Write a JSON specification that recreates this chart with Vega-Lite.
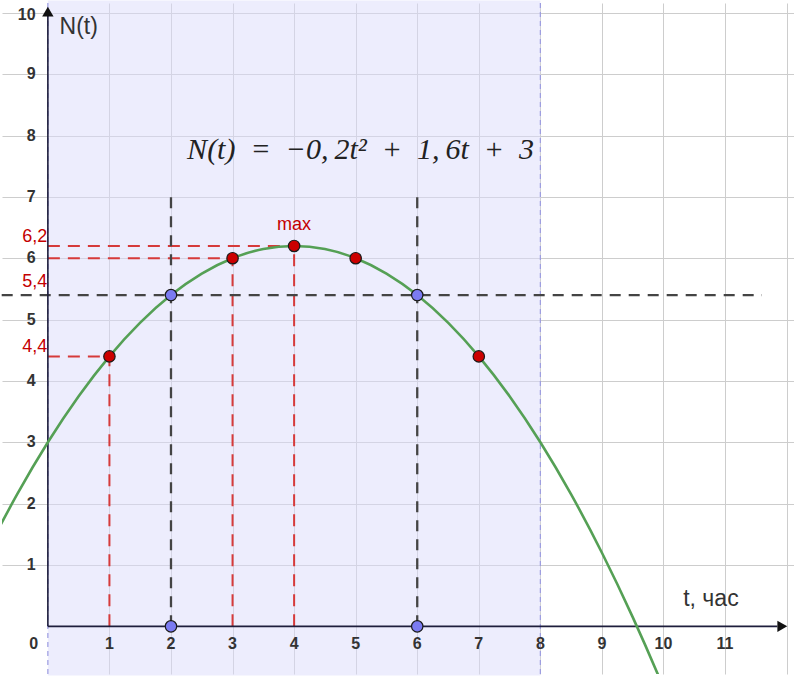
{
  "$schema": "https://vega.github.io/schema/vega-lite/v6.json",
  "width": 794,
  "height": 676,
  "autosize": {"type": "fit", "contains": "padding"},
  "padding": 0,
  "background": "white",
  "config": {
    "view": {"stroke": null},
    "axis": {"labels": false, "ticks": false, "domain": false, "title": null, "grid": true, "gridColor": "#cdcdcd", "gridWidth": 1}
  },
  "datasets": {
    "region": [{"a": 0, "b": 8, "lo": -0.8, "hi": 10.2}],
    "bounds": [{"x": 0}, {"x": 8}],
    "curve": [
      {"t": -0.8, "n": 1.592}, {"t": -0.5, "n": 2.15}, {"t": 0, "n": 3}, {"t": 0.5, "n": 3.75},
      {"t": 1, "n": 4.4}, {"t": 1.5, "n": 4.95}, {"t": 2, "n": 5.4}, {"t": 2.5, "n": 5.75},
      {"t": 3, "n": 6.0}, {"t": 3.5, "n": 6.15}, {"t": 4, "n": 6.2}, {"t": 4.5, "n": 6.15},
      {"t": 5, "n": 6.0}, {"t": 5.5, "n": 5.75}, {"t": 6, "n": 5.4}, {"t": 6.5, "n": 4.95},
      {"t": 7, "n": 4.4}, {"t": 7.5, "n": 3.75}, {"t": 8, "n": 3.0}, {"t": 8.5, "n": 2.15},
      {"t": 9, "n": 1.2}, {"t": 9.5, "n": 0.15}, {"t": 10, "n": -1.0}, {"t": 10.2, "n": -1.488}
    ],
    "redDash": [
      {"x1": 0, "y1": 4.4, "x2": 1, "y2": 4.4},
      {"x1": 0, "y1": 6.0, "x2": 3, "y2": 6.0},
      {"x1": 0, "y1": 6.2, "x2": 4, "y2": 6.2},
      {"x1": 1, "y1": 0, "x2": 1, "y2": 4.4},
      {"x1": 3, "y1": 0, "x2": 3, "y2": 6.0},
      {"x1": 4, "y1": 0, "x2": 4, "y2": 6.2}
    ],
    "blackDash": [
      {"x1": -0.75, "y1": 5.4, "x2": 11.6, "y2": 5.4},
      {"x1": 2, "y1": 0, "x2": 2, "y2": 7},
      {"x1": 6, "y1": 0, "x2": 6, "y2": 7}
    ],
    "axes": [
      {"x1": 0, "y1": 0, "x2": 0, "y2": 10.0},
      {"x1": 0, "y1": 0, "x2": 11.85, "y2": 0}
    ],
    "arrows": [
      {"x": 0, "y": 10.02, "shape": "triangle-up"},
      {"x": 11.93, "y": 0, "shape": "triangle-right"}
    ],
    "points": [
      {"x": 1, "y": 4.4, "kind": "red"}, {"x": 3, "y": 6.0, "kind": "red"},
      {"x": 4, "y": 6.2, "kind": "red"}, {"x": 5, "y": 6.0, "kind": "red"},
      {"x": 7, "y": 4.4, "kind": "red"},
      {"x": 2, "y": 5.4, "kind": "blue"}, {"x": 6, "y": 5.4, "kind": "blue"},
      {"x": 2, "y": 0, "kind": "blue"}, {"x": 6, "y": 0, "kind": "blue"}
    ],
    "xTicks": [
      {"x": -0.23, "y": -0.29, "label": "0"}, {"x": 1, "y": -0.29, "label": "1"},
      {"x": 2, "y": -0.29, "label": "2"}, {"x": 3, "y": -0.29, "label": "3"},
      {"x": 4, "y": -0.29, "label": "4"}, {"x": 5, "y": -0.29, "label": "5"},
      {"x": 6, "y": -0.29, "label": "6"}, {"x": 7, "y": -0.29, "label": "7"},
      {"x": 8, "y": -0.29, "label": "8"}, {"x": 9, "y": -0.29, "label": "9"},
      {"x": 10, "y": -0.29, "label": "10"}, {"x": 11, "y": -0.29, "label": "11"}
    ],
    "yTicks": [
      {"x": -0.2, "y": 1, "label": "1"}, {"x": -0.2, "y": 2, "label": "2"},
      {"x": -0.2, "y": 3, "label": "3"}, {"x": -0.2, "y": 4, "label": "4"},
      {"x": -0.2, "y": 5, "label": "5"}, {"x": -0.2, "y": 6, "label": "6"},
      {"x": -0.2, "y": 7, "label": "7"}, {"x": -0.2, "y": 8, "label": "8"},
      {"x": -0.2, "y": 9, "label": "9"}, {"x": -0.2, "y": 9.97, "label": "10"}
    ],
    "redLabels": [
      {"x": -0.01, "y": 6.34, "label": "6,2"},
      {"x": -0.01, "y": 5.61, "label": "5,4"},
      {"x": -0.01, "y": 4.56, "label": "4,4"}
    ]
  },
  "layer": [
    {
      "data": {"name": "region"},
      "mark": {"type": "rect", "fill": "#dcdcfc", "opacity": 0.5},
      "encoding": {
        "x": {"field": "a", "type": "quantitative", "scale": {"domain": [-0.745, 12.12], "nice": false, "zero": false}, "axis": {"values": [1,2,3,4,5,6,7,8,9,10,11,12]}},
        "x2": {"field": "b"},
        "y": {"field": "lo", "type": "quantitative", "scale": {"domain": [-0.777, 10.16], "nice": false, "zero": false}, "axis": {"values": [1,2,3,4,5,6,7,8,9,10]}},
        "y2": {"field": "hi"}
      }
    },
    {
      "data": {"name": "bounds"},
      "mark": {"type": "rule", "color": "#9c9ce0", "strokeDash": [5, 4], "strokeWidth": 1.2},
      "encoding": {"x": {"field": "x", "type": "quantitative"}}
    },
    {
      "data": {"name": "redDash"},
      "mark": {"type": "rule", "color": "#d63a3a", "strokeDash": [12, 8], "strokeWidth": 2},
      "encoding": {
        "x": {"field": "x1", "type": "quantitative"}, "x2": {"field": "x2"},
        "y": {"field": "y1", "type": "quantitative"}, "y2": {"field": "y2"}
      }
    },
    {
      "data": {"name": "blackDash"},
      "mark": {"type": "rule", "color": "#444444", "strokeDash": [11, 8], "strokeWidth": 2.3},
      "encoding": {
        "x": {"field": "x1", "type": "quantitative"}, "x2": {"field": "x2"},
        "y": {"field": "y1", "type": "quantitative"}, "y2": {"field": "y2"}
      }
    },
    {
      "data": {"name": "axes"},
      "mark": {"type": "rule", "color": "#1e1e3c", "strokeWidth": 1.6},
      "encoding": {
        "x": {"field": "x1", "type": "quantitative"}, "x2": {"field": "x2"},
        "y": {"field": "y1", "type": "quantitative"}, "y2": {"field": "y2"}
      }
    },
    {
      "data": {"name": "arrows"},
      "mark": {"type": "point", "filled": true, "color": "#111111", "size": 130, "opacity": 1},
      "encoding": {
        "x": {"field": "x", "type": "quantitative"},
        "y": {"field": "y", "type": "quantitative"},
        "shape": {"field": "shape", "type": "nominal", "scale": null}
      }
    },
    {
      "data": {"name": "curve"},
      "mark": {"type": "line", "color": "#55a055", "strokeWidth": 2.6, "interpolate": "monotone", "clip": true},
      "encoding": {
        "x": {"field": "t", "type": "quantitative"},
        "y": {"field": "n", "type": "quantitative"}
      }
    },
    {
      "data": {"name": "points"},
      "mark": {"type": "circle", "size": 130, "stroke": "#1a1a1a", "strokeWidth": 1.2, "opacity": 1},
      "encoding": {
        "x": {"field": "x", "type": "quantitative"},
        "y": {"field": "y", "type": "quantitative"},
        "fill": {"field": "kind", "type": "nominal", "scale": {"domain": ["red", "blue"], "range": ["#cc0000", "#7b7bf2"]}, "legend": null}
      }
    },
    {
      "data": {"name": "xTicks"},
      "mark": {"type": "text", "font": "Liberation Sans", "fontWeight": "bold", "fontSize": 16, "color": "#333333", "align": "center", "baseline": "middle"},
      "encoding": {
        "x": {"field": "x", "type": "quantitative"},
        "y": {"field": "y", "type": "quantitative"},
        "text": {"field": "label"}
      }
    },
    {
      "data": {"name": "yTicks"},
      "mark": {"type": "text", "font": "Liberation Sans", "fontWeight": "bold", "fontSize": 16, "color": "#333333", "align": "right", "baseline": "middle"},
      "encoding": {
        "x": {"field": "x", "type": "quantitative"},
        "y": {"field": "y", "type": "quantitative"},
        "text": {"field": "label"}
      }
    },
    {
      "data": {"name": "redLabels"},
      "mark": {"type": "text", "font": "Liberation Sans", "fontSize": 18, "color": "#c40000", "align": "right", "baseline": "middle"},
      "encoding": {
        "x": {"field": "x", "type": "quantitative"},
        "y": {"field": "y", "type": "quantitative"},
        "text": {"field": "label"}
      }
    },
    {
      "data": {"values": [{"x": 4.0, "y": 6.54, "label": "max"}]},
      "mark": {"type": "text", "font": "Liberation Sans", "fontSize": 18, "color": "#c40000", "align": "center", "baseline": "middle"},
      "encoding": {
        "x": {"field": "x", "type": "quantitative"},
        "y": {"field": "y", "type": "quantitative"},
        "text": {"field": "label"}
      }
    },
    {
      "data": {"values": [{"x": 0.19, "y": 9.77, "label": "N(t)"}, {"x": 10.32, "y": 0.45, "label": "t, час"}]},
      "mark": {"type": "text", "font": "Liberation Sans", "fontSize": 23, "color": "#333333", "align": "left", "baseline": "middle"},
      "encoding": {
        "x": {"field": "x", "type": "quantitative"},
        "y": {"field": "y", "type": "quantitative"},
        "text": {"field": "label"}
      }
    },
    {
      "data": {"values": [{"x": 5.08, "y": 7.77, "label": "N(t)\u2002=\u2002−0,\u20092t²\u2002+\u20021,\u20096t\u2002+\u20023"}]},
      "mark": {"type": "text", "font": "Liberation Serif", "fontStyle": "italic", "fontSize": 30, "color": "#222222", "align": "center", "baseline": "middle"},
      "encoding": {
        "x": {"field": "x", "type": "quantitative"},
        "y": {"field": "y", "type": "quantitative"},
        "text": {"field": "label"}
      }
    }
  ]
}
